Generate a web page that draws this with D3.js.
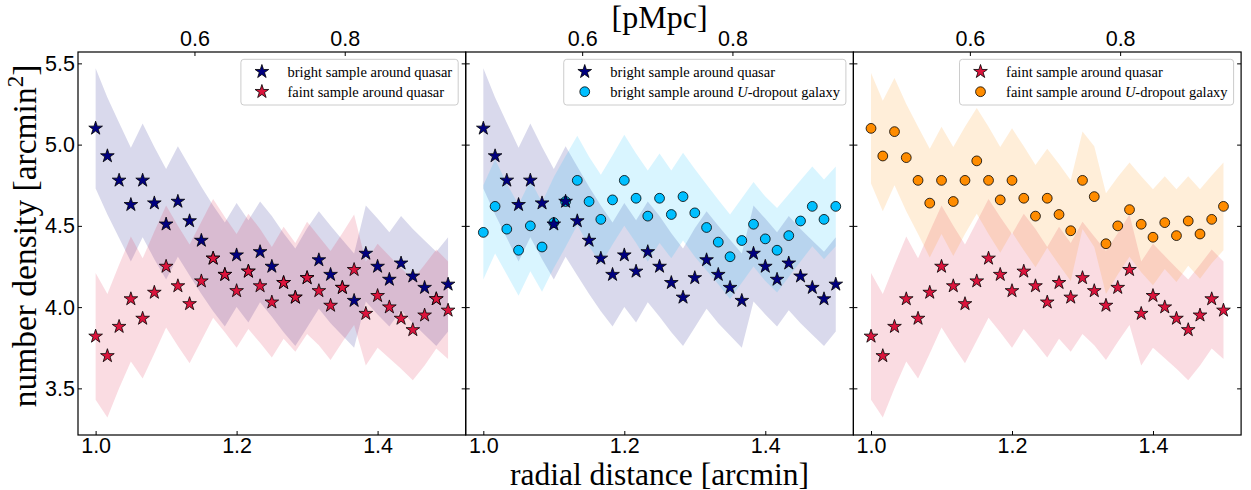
<!DOCTYPE html>
<html>
<head>
<meta charset="utf-8" />
<title>number density vs radial distance</title>
<script src="https://cdn.jsdelivr.net/npm/d3@7"></script>
<style>
  body { margin: 0; background: #fff; }
  svg { font-family: 'Liberation Serif', 'DejaVu Serif', serif; }
  .tick text { font-size: 21.5px; fill: #000; }
  .domain { display: none; }
  .tick line { stroke: #000; stroke-width: 1; }
  .legend text { font-size: 14.5px; }
</style>
</head>
<body>
<svg id="chart" width="1251" height="490"></svg>
<script>
// radial distance [arcmin]
const radius = [1.0, 1.0167, 1.0333, 1.05, 1.0667, 1.0833, 1.1, 1.1167, 1.1333, 1.15,
  1.1667, 1.1833, 1.2, 1.2167, 1.2333, 1.25, 1.2667, 1.2833, 1.3, 1.3167,
  1.3333, 1.35, 1.3667, 1.3833, 1.4, 1.4167, 1.4333, 1.45, 1.4667, 1.4833, 1.5];

// number density
const brightQso = [5.10, 4.93, 4.78, 4.63, 4.78, 4.64, 4.51, 4.65, 4.53, 4.41,
  4.30, 4.20, 4.32, 4.22, 4.34, 4.25, 4.15, 4.06, 4.18, 4.29,
  4.20, 4.12, 4.04, 4.33, 4.25, 4.17, 4.27, 4.19, 4.12, 4.05, 4.14];
const brightQsoErr = [0.37, 0.36, 0.355, 0.35, 0.35, 0.345, 0.34, 0.34, 0.335, 0.33,
  0.325, 0.32, 0.32, 0.315, 0.31, 0.31, 0.305, 0.30, 0.305, 0.30,
  0.30, 0.295, 0.29, 0.295, 0.295, 0.29, 0.29, 0.29, 0.29, 0.29, 0.29];

const faintQso = [3.82, 3.70, 3.88, 4.05, 3.93, 4.09, 4.25, 4.13, 4.02, 4.16,
  4.30, 4.20, 4.10, 4.22, 4.13, 4.03, 4.15, 4.06, 4.18, 4.10,
  4.01, 4.12, 4.23, 3.96, 4.07, 4.00, 3.93, 3.86, 3.95, 4.05, 3.98];
const faintQsoErr = [0.39, 0.38, 0.38, 0.385, 0.37, 0.375, 0.375, 0.37, 0.365, 0.365,
  0.365, 0.355, 0.35, 0.355, 0.35, 0.34, 0.345, 0.335, 0.345, 0.335,
  0.335, 0.335, 0.34, 0.32, 0.32, 0.315, 0.31, 0.31, 0.31, 0.305, 0.30];

const brightU = [4.46, 4.62, 4.48, 4.35, 4.50, 4.37, 4.52, 4.65, 4.78, 4.65,
  4.54, 4.66, 4.78, 4.67, 4.56, 4.67, 4.57, 4.68, 4.58, 4.49,
  4.40, 4.31, 4.41, 4.51, 4.42, 4.35, 4.44, 4.53, 4.62, 4.54, 4.62];
const brightUErr = [0.29, 0.29, 0.28, 0.28, 0.28, 0.275, 0.28, 0.28, 0.275, 0.275,
  0.275, 0.275, 0.28, 0.275, 0.28, 0.275, 0.27, 0.27, 0.27, 0.265,
  0.26, 0.26, 0.26, 0.26, 0.26, 0.26, 0.255, 0.25, 0.245, 0.245, 0.245];

const faintU = [5.10, 4.93, 5.08, 4.92, 4.78, 4.64, 4.78, 4.65, 4.78, 4.90,
  4.78, 4.66, 4.78, 4.67, 4.56, 4.67, 4.57, 4.47, 4.78, 4.68,
  4.39, 4.50, 4.60, 4.51, 4.43, 4.52, 4.44, 4.53, 4.45, 4.54, 4.62];
const faintUErr = [0.34, 0.34, 0.33, 0.33, 0.33, 0.335, 0.33, 0.335, 0.33, 0.325,
  0.33, 0.325, 0.32, 0.32, 0.315, 0.305, 0.31, 0.31, 0.30, 0.31,
  0.31, 0.30, 0.29, 0.295, 0.295, 0.285, 0.285, 0.275, 0.275, 0.27, 0.27];

const xTicks = [1.0, 1.2, 1.4];
const topTicks = [0.6, 0.8];
const yTicks = [3.5, 4.0, 4.5, 5.0, 5.5];

const series = {
  brightQso: { y: brightQso, err: brightQsoErr, color: '#000080', marker: 'star', label: ['bright sample around quasar'] },
  faintQso: { y: faintQso, err: faintQsoErr, color: '#dc143c', marker: 'star', label: ['faint sample around quasar'] },
  brightU: { y: brightU, err: brightUErr, color: '#00bfff', marker: 'circle', label: ['bright sample around ', 'U', '-dropout galaxy'] },
  faintU: { y: faintU, err: faintUErr, color: '#ff8c00', marker: 'circle', label: ['faint sample around ', 'U', '-dropout galaxy'] },
};

const panels = [
  { bands: ['brightQso', 'faintQso'], marks: ['brightQso', 'faintQso'], legend: ['brightQso', 'faintQso'] },
  { bands: ['brightQso', 'brightU'], marks: ['brightU', 'brightQso'], legend: ['brightQso', 'brightU'] },
  { bands: ['faintQso', 'faintU'], marks: ['faintQso', 'faintU'], legend: ['faintQso', 'faintU'] },
];

const marginLeft = 78, marginTop = 52, panelW = 387.7, panelH = 383;

const svg = d3.select('#chart');

const x = d3.scaleLinear().domain([0.975, 1.525]).range([0, panelW]);
const xTop = d3.scaleLinear().domain([0.445, 0.961]).range([0, panelW]);
const y = d3.scaleLinear().domain([3.213, 5.57]).range([panelH, 0]);

const area = d3.area()
  .x((d, i) => x(radius[i]))
  .y0((d) => y(d.y - d.e))
  .y1((d) => y(d.y + d.e));

const star = d3.symbol(d3.symbolStar, 58);

function drawMarker(g, s, cx, cy) {
  if (s.marker === 'star') {
    g.append('path')
      .attr('d', star())
      .attr('transform', `translate(${cx},${cy})`)
      .attr('fill', s.color)
      .attr('stroke', '#000')
      .attr('stroke-width', 0.8);
  } else {
    g.append('circle')
      .attr('cx', cx)
      .attr('cy', cy)
      .attr('r', 4.9)
      .attr('fill', s.color)
      .attr('stroke', '#000')
      .attr('stroke-width', 0.8);
  }
}

panels.forEach((p, k) => {
  const g = svg.append('g').attr('transform', `translate(${marginLeft + k * panelW},${marginTop})`);

  g.append('clipPath').attr('id', 'clip' + k)
    .append('rect').attr('width', panelW).attr('height', panelH);

  const plot = g.append('g').attr('clip-path', `url(#clip${k})`);

  p.bands.forEach((key) => {
    const s = series[key];
    plot.append('path')
      .datum(s.y.map((v, i) => ({ y: v, e: s.err[i] })))
      .attr('d', area)
      .attr('fill', s.color)
      .attr('fill-opacity', 0.15);
  });

  p.marks.forEach((key) => {
    const s = series[key];
    const mg = plot.append('g');
    s.y.forEach((v, i) => drawMarker(mg, s, x(radius[i]), y(v)));
  });

  // axes, ticks pointing inward
  g.append('g').attr('transform', `translate(0,${panelH})`)
    .call(d3.axisBottom(x).tickValues(xTicks).tickFormat(d3.format('.1f')).tickSize(-4).tickPadding(2.5));
  g.append('g')
    .call(d3.axisTop(xTop).tickValues(topTicks).tickFormat(d3.format('.1f')).tickSize(-4).tickPadding(6));
  const leftAx = g.append('g')
    .call(d3.axisLeft(y).tickValues(yTicks).tickFormat(d3.format('.1f')).tickSize(-4).tickPadding(3));
  g.append('g').attr('transform', `translate(${panelW},0)`)
    .call(d3.axisRight(y).tickValues(yTicks).tickFormat('').tickSize(-4));
  if (k > 0) leftAx.selectAll('text').remove();

  g.append('rect')
    .attr('width', panelW).attr('height', panelH)
    .attr('fill', 'none').attr('stroke', '#000').attr('stroke-width', 1.2);

  // legend
  const lg = g.append('g').attr('class', 'legend');
  const box = lg.append('rect');
  const texts = p.legend.map((key, j) => {
    const s = series[key];
    const t = lg.append('text').attr('y', 19.7 + j * 20).attr('dy', '0.35em');
    s.label.forEach((part, n) => {
      const ts = t.append('tspan').text(part);
      if (n === 1) ts.attr('font-style', 'italic');
    });
    return t;
  });
  const tw = d3.max(texts, (t) => t.node().getComputedTextLength());
  const bw = 46.6 + tw + 6;
  const bx = panelW - 7.5 - bw;
  box.attr('x', bx).attr('y', 7.3).attr('width', bw).attr('height', 45.7)
    .attr('rx', 3).attr('fill', '#fff').attr('fill-opacity', 0.8)
    .attr('stroke', '#ccc').attr('stroke-width', 1);
  texts.forEach((t) => t.attr('x', bx + 46.6));
  p.legend.forEach((key, j) => drawMarker(lg, series[key], bx + 21, 19.7 + j * 20));
});

const full = marginLeft + 3 * panelW;

svg.append('text')
  .attr('x', (marginLeft + full) / 2).attr('y', 484.5)
  .attr('text-anchor', 'middle').attr('font-size', 31.5)
  .text('radial distance [arcmin]');

svg.append('text')
  .attr('x', (marginLeft + full) / 2).attr('y', 28)
  .attr('text-anchor', 'middle').attr('font-size', 32)
  .text('[pMpc]');

const yl = svg.append('text')
  .attr('transform', `translate(36,236) rotate(-90)`)
  .attr('text-anchor', 'middle').attr('font-size', 33.5);
yl.append('tspan').text('number density [arcmin');
yl.append('tspan').attr('font-size', 23).attr('dy', -13).text('2');
yl.append('tspan').attr('dy', 13).text(']');
</script>
</body>
</html>
